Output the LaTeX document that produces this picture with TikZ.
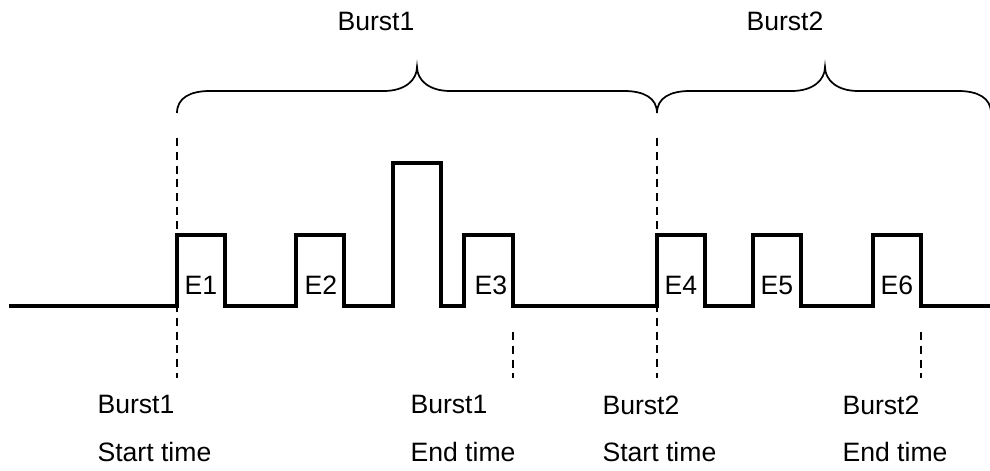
\documentclass[tikz,border=0pt]{standalone}
\usepackage{fontspec}
\setmainfont{Liberation Sans}
\usetikzlibrary{positioning}

\begin{document}
\begin{tikzpicture}[
    x=0.01321cm, y=-0.01321cm,
    every node/.style={font=\fontsize{10}{18}\selectfont, inner sep=0pt},
    signal/.style={line width=1.15pt, miter limit=4},
    guide/.style={line width=0.6pt, dash pattern=on 3pt off 2.2pt},
    brace/.style={line width=0.65pt},
    lbl/.style={anchor=base west},
    timelbl/.style={anchor=north west, align=left}
]
\useasboundingbox[fill=white] (0,0) rectangle (990,471);

% braces over the two bursts
\draw[brace] (177,113) .. controls (177,98) and (190,91) .. (210,91) -- (384,91)
    .. controls (405,91) and (417,80) .. (417,67)
    .. controls (417,80) and (429,91) .. (450,91) -- (624,91)
    .. controls (644,91) and (657,98) .. (657,113);
\draw[brace] (657,113) .. controls (657,98) and (670,91) .. (690,91) -- (792,91)
    .. controls (813,91) and (825,80) .. (825,67)
    .. controls (825,80) and (837,91) .. (858,91) -- (958,91)
    .. controls (978,91) and (991,98) .. (991,113);
\node[lbl] (burst1) at (337,31) {Burst1};
\node[lbl] (burst2) at (746,31) {Burst2};

% signal
\draw[signal] (9,306) -- (177,306) -- (177,235) -- (225,235) -- (225,306)
    -- (296,306) -- (296,235) -- (344,235) -- (344,306)
    -- (393,306) -- (393,163) -- (441,163) -- (441,306)
    -- (464,306) -- (464,235) -- (513,235) -- (513,306)
    -- (657,306) -- (657,235) -- (705,235) -- (705,306)
    -- (753,306) -- (753,235) -- (801,235) -- (801,306)
    -- (873,306) -- (873,235) -- (921,235) -- (921,306) -- (990,306);
\node[lbl] (e1) at (184,295) {E1};
\node[lbl] (e2) at (304,295) {E2};
\node[lbl] (e3) at (474,295) {E3};
\node[lbl] (e4) at (664,295) {E4};
\node[lbl] (e5) at (760,295) {E5};
\node[lbl] (e6) at (880,295) {E6};

% time marks
\draw[guide] (177,138) -- (177,378);
\draw[guide] (657,138) -- (657,378);
\draw[guide] (513,332) -- (513,378);
\draw[guide] (921,332) -- (921,378);
\node[timelbl] (start1) at (97,395) {Burst1\\Start time};
\node[timelbl] (end1) at (410,395) {Burst1\\End time};
\node[timelbl] (start2) at (602,395) {Burst2\\Start time};
\node[timelbl] (end2) at (842,395) {Burst2\\End time};
\end{tikzpicture}
\end{document}
